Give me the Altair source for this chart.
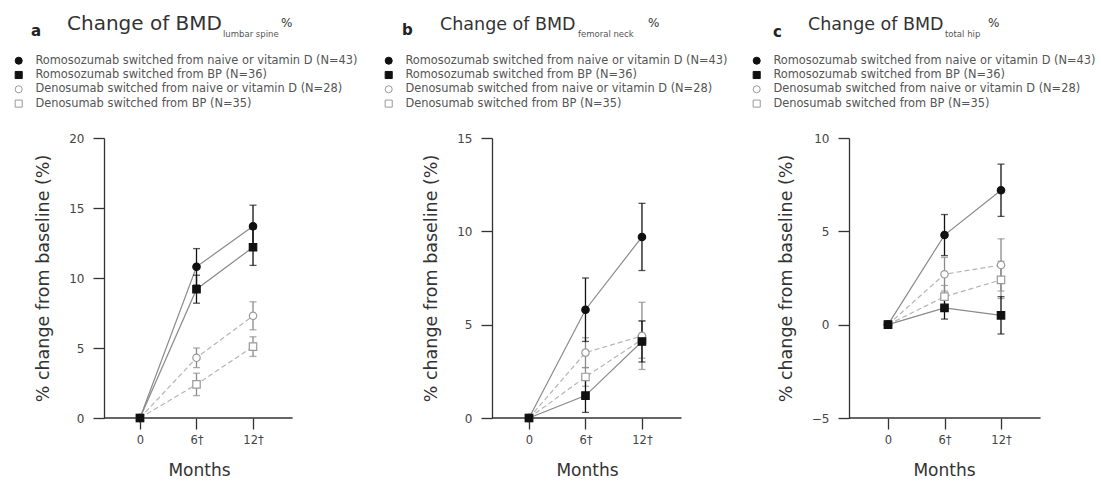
import altair as alt
import pandas as pd

# ---------------- data ----------------
months = [0, 6, 12]
month_labels = ["0", "6†", "12†"]
groups = [
    "Romosozumab switched from naive or vitamin D (N=43)",
    "Romosozumab switched from BP (N=36)",
    "Denosumab switched from naive or vitamin D (N=28)",
    "Denosumab switched from BP (N=35)",
]
drugs = ["Romo", "Romo", "Deno", "Deno"]
panel_letters = ["a", "b", "c"]
panel_title = "Change of BMD"
panel_sites = ["lumbar spine", "femoral neck", "total hip"]
y_title = "% change from baseline (%)"
x_title = "Months"

# panel a: lumbar spine  (mean, error) per group, at months 0/6/12
a_vals = [[0, 10.8, 13.7], [0, 9.2, 12.2], [0, 4.3, 7.3], [0, 2.4, 5.1]]
a_errs = [[0, 1.3, 1.5], [0, 1.0, 1.3], [0, 0.7, 1.0], [0, 0.8, 0.7]]
# panel b: femoral neck
b_vals = [[0, 5.8, 9.7], [0, 1.2, 4.1], [0, 3.5, 4.4], [0, 2.2, 4.2]]
b_errs = [[0, 1.7, 1.8], [0, 0.9, 1.1], [0, 0.8, 1.8], [0, 0.5, 1.0]]
# panel c: total hip
c_vals = [[0, 4.8, 7.2], [0, 0.9, 0.5], [0, 2.7, 3.2], [0, 1.5, 2.4]]
c_errs = [[0, 1.1, 1.4], [0, 0.6, 1.0], [0, 0.9, 1.4], [0, 0.6, 1.0]]

y_domains = [[0, 20], [0, 15], [-5, 10]]
y_ticks = [[0, 5, 10, 15, 20], [0, 5, 10, 15], [-5, 0, 5, 10]]
x_domains = [[-3.82, 19.43], [-3.93, 16.04], [-4.14, 16.14]]
x_axis_end = 16.2

FONT = "DejaVu Sans"


def panel_df(vals, errs):
    rows = []
    for g, d, v, e in reversed(list(zip(groups, drugs, vals, errs))):
        for m, vv, ee in zip(months, v, e):
            rows.append(dict(group=g, drug=d, month=m, value=vv,
                             lo=vv - ee, hi=vv + ee))
    return pd.DataFrame(rows)


def make_panel(i, vals, errs, width, leg_x, letter_x, letter_y, title_x,
               title_size, sub_x, pct_x):
    df = panel_df(vals, errs)
    xdom = x_domains[i]
    ydom = y_domains[i]
    label_expr = ("datum.value == 0 ? '0' : (datum.value == 6 ? '"
                  + month_labels[1] + "' : '" + month_labels[2] + "')")
    xenc = alt.X(
        "month:Q",
        scale=alt.Scale(domain=xdom, nice=False, zero=False),
        axis=alt.Axis(values=months, labelExpr=label_expr, domain=False,
                      grid=False, tickSize=11, tickWidth=1.3,
                      tickColor="#333", labelFontSize=11.5,
                      labelPadding=5, titleFontSize=17, titlePadding=17,
                      titleX=95, titleFontWeight="normal"),
        title=x_title,
    )
    yscale = alt.Scale(domain=ydom, nice=False, zero=False)
    yaxis = alt.Axis(values=y_ticks[i], grid=False, tickSize=11, tickWidth=1.3,
                     domainWidth=1.3, labelFontSize=12, labelPadding=9,
                     titleFontSize=17.5, titlePadding=16,
                     titleFontWeight="normal")
    yenc = alt.Y("value:Q", scale=yscale, axis=yaxis, title=y_title)
    ylo = alt.Y("lo:Q", scale=yscale, axis=yaxis, title=y_title)

    base = alt.Chart(df)

    axis_df = pd.DataFrame({"month": [xdom[0]], "month2": [x_axis_end],
                            "value": [ydom[0]]})
    axis_line = alt.Chart(axis_df).mark_rule(
        color="#333", strokeWidth=1.3).encode(
        x=xenc, x2="month2:Q", y=yenc)

    lines_romo = base.transform_filter(alt.datum.drug == "Romo").mark_line(
        color="#8a8a8a", strokeWidth=1.2).encode(
        x=xenc, y=yenc, detail="group:N")
    lines_deno = base.transform_filter(alt.datum.drug == "Deno").mark_line(
        color="#b5b5b5", strokeWidth=1.2, strokeDash=[5, 3]).encode(
        x=xenc, y=yenc, detail="group:N")

    def err_layers(drug, color):
        d = base.transform_filter(
            (alt.datum.drug == drug) & (alt.datum.month > 0))
        r = d.mark_rule(color=color, strokeWidth=1.3).encode(
            x=xenc, y=ylo, y2="hi:Q")
        t1 = d.mark_tick(color=color, orient="horizontal", size=7,
                         thickness=1.3).encode(x=xenc, y=ylo)
        t2 = d.mark_tick(color=color, orient="horizontal", size=7,
                         thickness=1.3).encode(
            x=xenc, y=alt.Y("hi:Q", scale=yscale, axis=yaxis, title=y_title))
        return [r, t1, t2]

    legend = alt.Legend(orient="none", legendX=leg_x, legendY=-83,
                        title=None, labelFont=FONT, labelFontSize=11.4,
                        labelColor="#555", symbolSize=50,
                        symbolStrokeWidth=1, rowPadding=1.3, labelOffset=11,
                        padding=0, labelLimit=500)
    points = base.mark_point(filled=False, size=55, strokeWidth=1.2,
                             opacity=1).encode(
        x=xenc, y=yenc,
        shape=alt.Shape("group:N", scale=alt.Scale(
            domain=groups, range=["circle", "square", "circle", "square"]),
            legend=legend),
        fill=alt.Fill("group:N", scale=alt.Scale(
            domain=groups,
            range=["#111111", "#111111", "#ffffff", "#ffffff"]),
            legend=legend),
        stroke=alt.Stroke("group:N", scale=alt.Scale(
            domain=groups,
            range=["#111111", "#111111", "#9a9a9a", "#9a9a9a"]),
            legend=legend),
    )

    one = alt.Chart(pd.DataFrame({"k": [0]}))
    letter = one.mark_text(text=panel_letters[i], font=FONT, fontSize=15,
                           fontWeight="bold", color="#222", align="left",
                           baseline="alphabetic").encode(
        x=alt.value(letter_x), y=alt.value(letter_y))
    title = one.mark_text(text=panel_title, font=FONT, fontSize=title_size,
                          color="#333", align="left",
                          baseline="alphabetic").encode(
        x=alt.value(title_x), y=alt.value(-108))
    sub = one.mark_text(text=panel_sites[i], font=FONT, fontSize=8.5,
                        color="#555", align="left",
                        baseline="alphabetic").encode(
        x=alt.value(sub_x), y=alt.value(-101))
    pct = one.mark_text(text="%", font=FONT, fontSize=12, color="#333",
                        align="left", baseline="alphabetic").encode(
        x=alt.value(pct_x), y=alt.value(-111))

    layers = [axis_line, lines_deno, lines_romo]
    layers += err_layers("Deno", "#8a8a8a")
    layers += err_layers("Romo", "#111111")
    layers += [points, letter, title, sub, pct]
    return alt.layer(*layers).properties(width=width, height=280)


pa = make_panel(0, a_vals, a_errs, 219, -91, -73, -102, -37, 20, 119, 177)
pb = make_panel(1, b_vals, b_errs, 188, -109, -90, -103, -52, 17.5, 86, 156)
pc = make_panel(2, c_vals, c_errs, 191, -98, -76, -101, -41, 17.5, 96, 139)

chart = alt.hconcat(pa, pb, pc, spacing=169, bounds="flush").resolve_scale(
    x="independent", y="independent", shape="independent",
    fill="independent", stroke="independent",
).resolve_legend(shape="independent", fill="independent",
                 stroke="independent").properties(
    padding={"left": 13, "top": 14, "right": 2, "bottom": 0},
    background="white",
).configure_view(strokeWidth=0, stroke="transparent").configure_axis(
    labelFont=FONT, titleFont=FONT, domainColor="#333", tickColor="#333",
    labelColor="#444", titleColor="#333"
)

chart.save("out.html", embed_options={"renderer": "svg", "actions": False})
